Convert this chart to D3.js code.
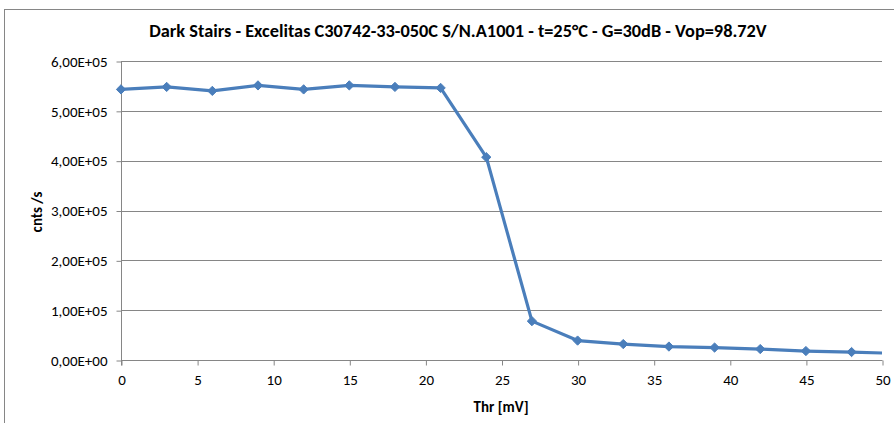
<!DOCTYPE html>
<html>
<head>
<meta charset="utf-8">
<script src="https://cdn.jsdelivr.net/npm/d3@7"></script>
<style>
  html, body { margin: 0; padding: 0; background: #fff; }
  svg { display: block; }
</style>
</head>
<body>
<svg id="chart" width="894" height="423"></svg>
<script>
// Threshold scan: dark count rate versus discriminator threshold
const thresholds = [0, 3, 6, 9, 12, 15, 18, 21, 24, 27, 30, 33, 36, 39, 42, 45, 48, 51];
const rates = [543000, 548000, 540000, 551000, 543000, 551000, 548000, 546000, 407000, 78000,
               39000, 32000, 27000, 25000, 22000, 18000, 16000, 13000];
const xTicks = [0, 5, 10, 15, 20, 25, 30, 35, 40, 45, 50];
const yTicks = [0, 100000, 200000, 300000, 400000, 500000, 600000];

const titleText = "Dark Stairs - Excelitas C30742-33-050C S/N.A1001 - t=25\u00B0C - G=30dB - Vop=98.72V";
const xTitle = "Thr [mV]";
const yTitle = "cnts /s";

const svg = d3.select("#chart");
const grid = "#868686";
const blue = "#4a7ebb";
const font = "Carlito, Calibri, Lato, sans-serif";

// outer chart frame (runs off the right and bottom edges)
svg.append("line").attr("x1", 4.5).attr("x2", 4.5).attr("y1", 9).attr("y2", 423)
  .attr("stroke", grid).attr("stroke-width", 1);
svg.append("line").attr("x1", 4).attr("x2", 894).attr("y1", 9.5).attr("y2", 9.5)
  .attr("stroke", grid).attr("stroke-width", 1);

const x = d3.scaleLinear().domain([0, 50]).range([121, 882]);
const y = d3.scaleLinear().domain([0, 600000]).range([360, 61]);

// horizontal gridlines
svg.append("g").selectAll("line").data(yTicks.slice(1)).join("line")
  .attr("x1", x(0)).attr("x2", x(50))
  .attr("y1", d => Math.round(y(d)) + 0.5).attr("y2", d => Math.round(y(d)) + 0.5)
  .attr("stroke", grid).attr("stroke-width", 1);

// y axis with sci-notation labels using a comma decimal separator
const fmtY = d => {
  const e = d === 0 ? 0 : Math.floor(Math.log10(d));
  const m = d / Math.pow(10, e);
  return m.toFixed(2).replace(".", ",") + "E+" + String(e).padStart(2, "0");
};
const yAxis = d3.axisLeft(y).tickValues(yTicks).tickFormat(fmtY).tickSize(5).tickPadding(9);
const gy = svg.append("g").attr("transform", "translate(121.5,0.5)").call(yAxis)
  .attr("font-size", 15).attr("font-family", font);
gy.select(".domain").attr("stroke", grid).attr("d", `M0,${y(600000) - 0.5}V${y(0) + 5}`);
gy.selectAll(".tick line").attr("stroke", grid);
gy.selectAll(".tick text").attr("fill", "#000");

// x axis
const xAxis = d3.axisBottom(x).tickValues(xTicks).tickSize(5).tickPadding(9);
const gx = svg.append("g").attr("transform", "translate(0.5,360.5)").call(xAxis)
  .attr("font-size", 15).attr("font-family", font);
gx.select(".domain").attr("stroke", grid).attr("d", `M${x(0)},0H${x(50)}`);
gx.selectAll(".tick line").attr("stroke", grid);
gx.selectAll(".tick text").attr("fill", "#000");

// data series, clipped to the plot area
svg.append("clipPath").attr("id", "plot-clip")
  .append("rect").attr("x", x(0) - 8).attr("y", 40).attr("width", x(50) - x(0) + 8).attr("height", 340);

const pts = thresholds.map((t, i) => [t, rates[i]]);
const series = svg.append("g").attr("clip-path", "url(#plot-clip)");
series.append("path")
  .datum(pts)
  .attr("d", d3.line().x(d => x(d[0])).y(d => y(d[1])))
  .attr("fill", "none").attr("stroke", blue).attr("stroke-width", 3.2)
  .attr("stroke-linejoin", "round");
series.selectAll("path.marker").data(pts.filter(d => d[0] <= 50)).join("path")
  .attr("class", "marker")
  .attr("d", d3.symbol(d3.symbolDiamond2, 55))
  .attr("transform", d => `translate(${x(d[0])},${y(d[1])})`)
  .attr("fill", blue).attr("stroke", blue).attr("stroke-width", 1);

// titles
const title = svg.append("text")
  .attr("x", 458).attr("y", 37).attr("text-anchor", "middle")
  .attr("font-family", font)
  .attr("font-weight", "bold").attr("font-size", 18)
  .text(titleText);
// fit title to its measured width
const tw = title.node().getComputedTextLength();
title.attr("font-size", 18 * 618 / tw);

svg.append("text")
  .attr("x", 501).attr("y", 412).attr("text-anchor", "middle")
  .attr("font-family", font)
  .attr("font-weight", "bold").attr("font-size", 15)
  .text(xTitle);

svg.append("text")
  .attr("transform", "translate(42,212) rotate(-90)")
  .attr("text-anchor", "middle")
  .attr("font-family", font)
  .attr("font-weight", "bold").attr("font-size", 15)
  .text(yTitle);
</script>
</body>
</html>
